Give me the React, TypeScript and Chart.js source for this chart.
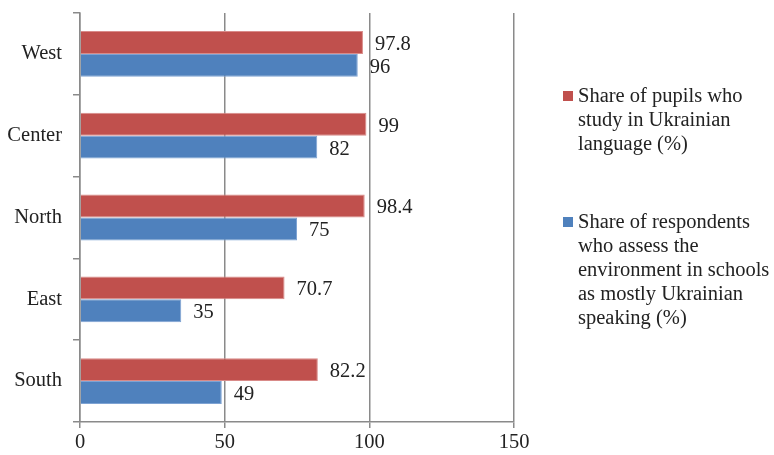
import React, { useEffect, useRef } from "react";
import { Chart, registerables } from "chart.js";

Chart.register(...registerables);

const categories = ["West", "Center", "North", "East", "South"];
const pupilsShare = [97.8, 99, 98.4, 70.7, 82.2];
const respondentsShare = [96, 82, 75, 35, 49];
const pupilsLabel = ["Share of pupils who", "study in Ukrainian", "language (%)"];
const respondentsLabel = [
  "Share of respondents",
  "who assess the",
  "environment in schools",
  "as mostly Ukrainian",
  "speaking (%)",
];

const RED = "#C0504D";
const BLUE = "#4F81BD";
const GRID = "#8a8a8a";
const TEXT = "#222222";
const FONT = "'Liberation Serif', 'Times New Roman', serif";
const FS = 20.5;

const valueLabels = {
  id: "valueLabels",
  afterDatasetsDraw(chart: any) {
    const ctx = chart.ctx;
    ctx.save();
    ctx.font = `${FS}px ${FONT}`;
    ctx.fillStyle = TEXT;
    ctx.textAlign = "left";
    ctx.textBaseline = "middle";
    chart.data.datasets.forEach((ds: any, di: number) => {
      const meta = chart.getDatasetMeta(di);
      meta.data.forEach((el: any, i: number) => {
        ctx.fillText(String(ds.data[i]), el.x + 12, el.y + 2);
      });
    });
    ctx.restore();
  },
};

export default function App() {
  const ref = useRef<HTMLCanvasElement>(null);
  useEffect(() => {
    if (!ref.current) return;
    const chart = new Chart(ref.current, {
      type: "bar",
      data: {
        labels: categories,
        datasets: [
          {
            label: pupilsLabel.join(" "),
            data: pupilsShare,
            backgroundColor: RED,
            borderColor: "#d98b89",
            borderWidth: 1,
          },
          {
            label: respondentsLabel.join(" "),
            data: respondentsShare,
            backgroundColor: BLUE,
            borderColor: "#7ea3d3",
            borderWidth: 1,
          },
        ],
      },
      options: {
        indexAxis: "y",
        animation: false,
        responsive: true,
        maintainAspectRatio: false,
        categoryPercentage: 0.56,
        barPercentage: 1,
        layout: { padding: { top: 13, right: 260, left: 0, bottom: 0 } },
        plugins: {
          legend: { display: false },
          tooltip: { enabled: false },
        },
        scales: {
          x: {
            min: 0,
            max: 150,
            ticks: {
              stepSize: 50,
              color: TEXT,
              font: { family: FONT, size: FS },
              padding: 2,
            },
            grid: {
              color: GRID,
              lineWidth: 1.5,
              drawTicks: true,
              tickLength: 6,
            },
            border: { color: GRID, width: 1.5 },
            afterFit: (s: any) => {
              s.height = 33;
            },
          },
          y: {
            ticks: {
              color: TEXT,
              font: { family: FONT, size: FS },
              padding: 11,
            },
            grid: {
              offset: true,
              drawOnChartArea: false,
              drawTicks: true,
              tickLength: 7,
              color: GRID,
              lineWidth: 1.5,
            },
            border: { color: GRID, width: 1.5 },
            afterFit: (s: any) => {
              s.width = 80;
              s.paddingTop = 0;
              s.paddingBottom = 0;
            },
          },
        },
      },
      plugins: [valueLabels],
    });
    return () => chart.destroy();
  }, []);

  const lineStyle: React.CSSProperties = {
    height: 24,
    lineHeight: "24px",
    whiteSpace: "nowrap",
  };
  const block = (lines: string[], color: string, top: number) => (
    <div style={{ position: "absolute", left: 578, top, fontFamily: FONT, fontSize: FS, color: TEXT }}>
      <span
        style={{
          position: "absolute",
          left: -15,
          top: 8,
          width: 10,
          height: 10,
          background: color,
        }}
      />
      {lines.map((l, i) => (
        <div key={i} style={lineStyle}>
          {l}
        </div>
      ))}
    </div>
  );

  return (
    <div style={{ position: "fixed", left: 0, top: 0, width: 774, height: 455, background: "#fff" }}>
      <canvas ref={ref} style={{ position: "absolute", left: 0, top: 0, width: 774, height: 455 }} />
      {block(pupilsLabel, RED, 83)}
      {block(respondentsLabel, BLUE, 209)}
    </div>
  );
}
